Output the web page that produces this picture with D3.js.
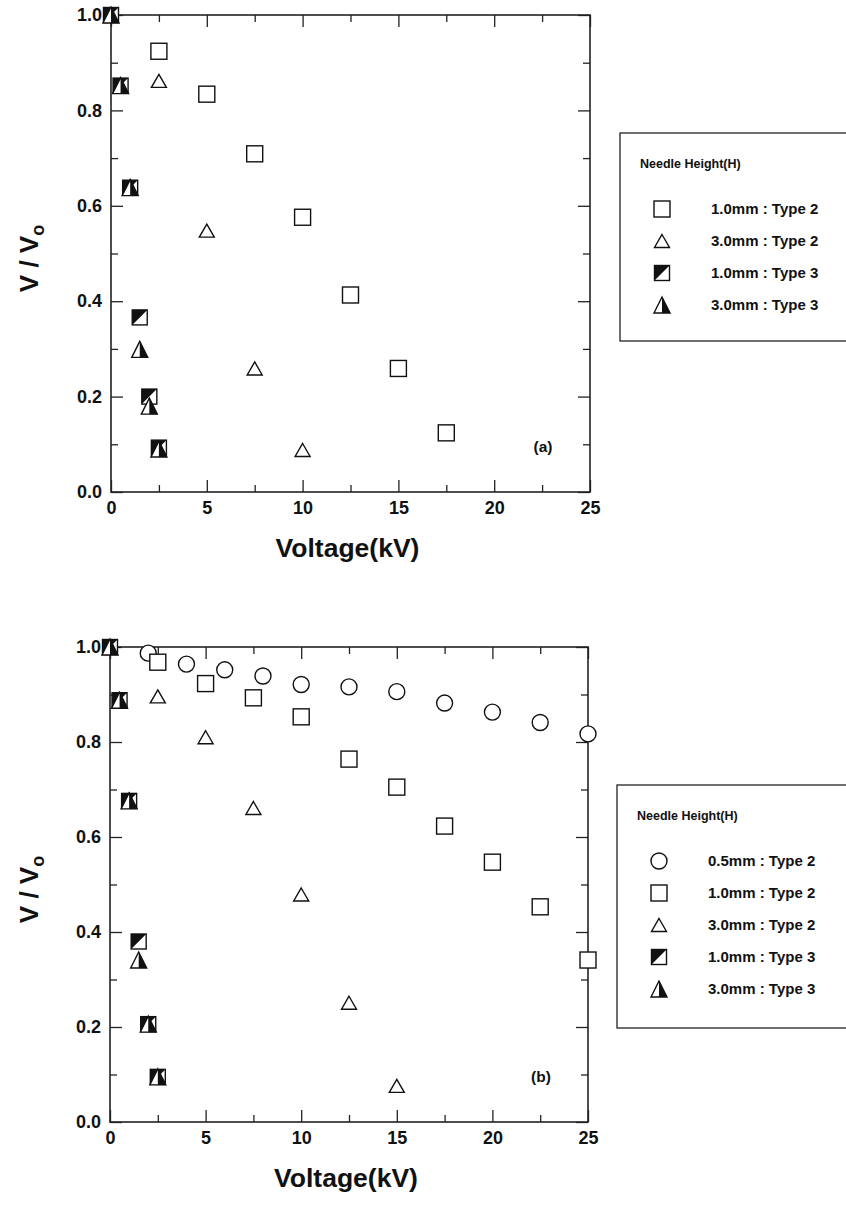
<!DOCTYPE html>
<html>
<head>
<meta charset="utf-8">
<script src="https://cdn.jsdelivr.net/npm/d3@7"></script>
<style>
body { margin: 0; background: #fff; }
svg { display: block; }
text { font-family: "Liberation Sans", Arial, sans-serif; fill: #111; }
</style>
</head>
<body>
<svg id="chart" width="846" height="1205"></svg>
<script>
// values: x = voltage (kV), y = V/V0
var xTicks = [0, 5, 10, 15, 20, 25]
var xMinor = [2.5, 7.5, 12.5, 17.5, 22.5]
var yTicks = [0, 0.2, 0.4, 0.6, 0.8, 1.0]
var yMinor = [0.1, 0.3, 0.5, 0.7, 0.9]

// panel (a)
var aH10T2 = [[2.5, 0.924], [5, 0.834], [7.5, 0.709], [10, 0.576], [12.5, 0.413], [15, 0.259], [17.5, 0.124]]
var aH30T2 = [[2.5, 0.862], [5, 0.548], [7.5, 0.259], [10, 0.088]]
var aH10T3 = [[0, 1.0], [0.5, 0.852], [1, 0.638], [1.5, 0.366], [2, 0.2], [2.5, 0.093]]
var aH30T3 = [[0, 1.0], [0.5, 0.852], [1, 0.638], [1.5, 0.299], [2, 0.18], [2.5, 0.09]]

// panel (b)
var bH05T2 = [[2, 0.987], [4, 0.964], [6, 0.952], [8, 0.939], [10, 0.921], [12.5, 0.916], [15, 0.906], [17.5, 0.882], [20, 0.863], [22.5, 0.841], [25, 0.817]]
var bH10T2 = [[2.5, 0.968], [5, 0.923], [7.5, 0.893], [10, 0.853], [12.5, 0.764], [15, 0.705], [17.5, 0.623], [20, 0.547], [22.5, 0.453], [25, 0.341]]
var bH30T2 = [[2.5, 0.896], [5, 0.81], [7.5, 0.661], [10, 0.479], [12.5, 0.251], [15, 0.076]]
var bH10T3 = [[0, 1.0], [0.5, 0.888], [1, 0.676], [1.5, 0.38], [2, 0.206], [2.5, 0.095]]
var bH30T3 = [[0, 1.0], [0.5, 0.888], [1, 0.676], [1.5, 0.341], [2, 0.206], [2.5, 0.095]]

var legendTitle = "Needle Height(H)"
var aLabels = ["1.0mm : Type 2", "3.0mm : Type 2", "1.0mm : Type 3", "3.0mm : Type 3"]
var bLabels = ["0.5mm : Type 2", "1.0mm : Type 2", "3.0mm : Type 2", "1.0mm : Type 3", "3.0mm : Type 3"]

var svg = d3.select("#chart")

var panels = [
    {
        left: 111, right: 590, top: 15, bottom: 492, tag: "(a)",
        series: [
            {data: aH10T2, sym: "square"},
            {data: aH30T2, sym: "triangle"},
            {data: aH10T3, sym: "halfSquare"},
            {data: aH30T3, sym: "halfTriangle"}
        ],
        labels: aLabels, syms: ["square", "triangle", "halfSquare", "halfTriangle"],
        box: {x: 620, y: 133, h: 208}
    },
    {
        left: 110, right: 588, top: 647, bottom: 1122, tag: "(b)",
        series: [
            {data: bH05T2, sym: "circle"},
            {data: bH10T2, sym: "square"},
            {data: bH30T2, sym: "triangle"},
            {data: bH10T3, sym: "halfSquare"},
            {data: bH30T3, sym: "halfTriangle"}
        ],
        labels: bLabels, syms: ["circle", "square", "triangle", "halfSquare", "halfTriangle"],
        box: {x: 617, y: 785, h: 243}
    }
]

function drawSym(g, kind) {
    var sw = 1.4
    if (kind == "circle") {
        g.append("circle").attr("r", 8).attr("fill", "#fff").attr("stroke", "#111").attr("stroke-width", sw)
    } else if (kind == "square") {
        g.append("rect").attr("x", -8).attr("y", -8).attr("width", 16).attr("height", 16)
            .attr("fill", "#fff").attr("stroke", "#111").attr("stroke-width", sw)
    } else if (kind == "triangle") {
        g.append("path").attr("d", "M0,-6.5L7.5,6.5L-7.5,6.5Z")
            .attr("fill", "#fff").attr("stroke", "#111").attr("stroke-width", sw)
    } else if (kind == "halfSquare") {
        g.append("rect").attr("x", -7.5).attr("y", -7.5).attr("width", 15).attr("height", 15)
            .attr("fill", "#fff").attr("stroke", "#111").attr("stroke-width", sw)
        g.append("path").attr("d", "M-7.5,-7.5L7.5,-7.5L-7.5,7.5Z").attr("fill", "#111")
    } else if (kind == "halfTriangle") {
        g.append("path").attr("d", "M0,-8L8,8L-8,8Z")
            .attr("fill", "#fff").attr("stroke", "#111").attr("stroke-width", sw)
        g.append("path").attr("d", "M0,-8L8,8L0,8Z").attr("fill", "#111")
    }
}

panels.forEach(function(p) {
    var x = d3.scaleLinear().domain([0, 25]).range([p.left, p.right])
    var y = d3.scaleLinear().domain([0, 1]).range([p.bottom, p.top])
    var h = p.bottom - p.top
    var w = p.right - p.left
    var g = svg.append("g")

    // ticks point inward on all four sides
    var axes = [
        g.append("g").attr("transform", "translate(0," + p.bottom + ")")
            .call(d3.axisBottom(x).tickValues(xTicks).tickSize(-12).tickPadding(9).tickFormat(d3.format("d"))),
        g.append("g").attr("transform", "translate(0," + p.bottom + ")")
            .call(d3.axisBottom(x).tickValues(xMinor).tickSize(-7).tickFormat("")),
        g.append("g").attr("transform", "translate(0," + p.top + ")")
            .call(d3.axisTop(x).tickValues(xTicks).tickSize(-12).tickFormat("")),
        g.append("g").attr("transform", "translate(0," + p.top + ")")
            .call(d3.axisTop(x).tickValues(xMinor).tickSize(-7).tickFormat("")),
        g.append("g").attr("transform", "translate(" + p.left + ",0)")
            .call(d3.axisLeft(y).tickValues(yTicks).tickSize(-12).tickPadding(9).tickFormat(d3.format(".1f"))),
        g.append("g").attr("transform", "translate(" + p.left + ",0)")
            .call(d3.axisLeft(y).tickValues(yMinor).tickSize(-7).tickFormat("")),
        g.append("g").attr("transform", "translate(" + p.right + ",0)")
            .call(d3.axisRight(y).tickValues(yTicks).tickSize(-12).tickFormat("")),
        g.append("g").attr("transform", "translate(" + p.right + ",0)")
            .call(d3.axisRight(y).tickValues(yMinor).tickSize(-7).tickFormat(""))
    ]
    axes.forEach(function(a) {
        a.select(".domain").remove()
        a.selectAll("line").attr("stroke", "#222").attr("stroke-width", 1.3)
        a.selectAll("text").attr("font-size", 18).attr("font-weight", "bold").attr("fill", "#111")
            .style("font-family", "'Liberation Sans', Arial, sans-serif")
    })

    g.append("rect").attr("x", p.left).attr("y", p.top).attr("width", w).attr("height", h)
        .attr("fill", "none").attr("stroke", "#222").attr("stroke-width", 1.6)

    p.series.forEach(function(s) {
        g.selectAll(null).data(s.data).join("g")
            .attr("transform", function(d) { return "translate(" + x(d[0]) + "," + y(d[1]) + ")" })
            .each(function() { drawSym(d3.select(this), s.sym) })
    })

    g.append("text").attr("x", p.right - 47).attr("y", y(0.1) + 2).attr("dy", "0.35em")
        .attr("text-anchor", "middle").attr("font-size", 15.5).attr("font-weight", "bold").text(p.tag)

    g.append("text").attr("x", (p.left + p.right) / 2 - 3).attr("y", p.bottom + 65)
        .attr("text-anchor", "middle").attr("font-size", 26.5).attr("font-weight", "bold").text("Voltage(kV)")

    var yt = g.append("text").attr("transform", "translate(38," + (p.top + h / 2 + 5) + ") rotate(-90)")
        .attr("text-anchor", "middle").attr("font-size", 26).attr("font-weight", "bold")
    yt.append("tspan").text("V / V")
    yt.append("tspan").attr("font-size", 18).attr("dy", 6).text("o")

    // legend box runs off the right edge like the scan
    var lg = g.append("g").attr("transform", "translate(" + p.box.x + "," + p.box.y + ")")
    lg.append("rect").attr("width", 260).attr("height", p.box.h)
        .attr("fill", "#fff").attr("stroke", "#222").attr("stroke-width", 1.3)
    lg.append("text").attr("x", 20).attr("y", 31).attr("dy", "0.35em")
        .attr("font-size", 12.5).attr("font-weight", "bold").text(legendTitle)
    p.labels.forEach(function(lab, i) {
        var ry = 76 + i * 32
        var sg = lg.append("g").attr("transform", "translate(42," + ry + ")")
        drawSym(sg, p.syms[i])
        lg.append("text").attr("x", 91).attr("y", ry).attr("dy", "0.35em")
            .attr("font-size", 15).attr("font-weight", "bold").text(lab)
    })
})
</script>
</body>
</html>
